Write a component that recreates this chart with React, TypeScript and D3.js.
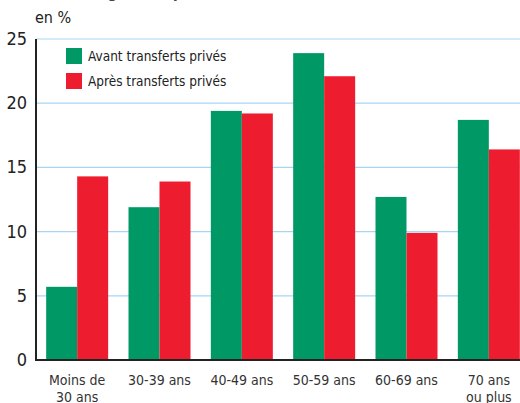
import React from "react";
import * as d3 from "d3";

const categories = ["Moins de\n30 ans", "30-39 ans", "40-49 ans", "50-59 ans", "60-69 ans", "70 ans\nou plus"];
const avant = [5.7, 11.9, 19.4, 23.9, 12.7, 18.7];
const apres = [14.3, 13.9, 19.2, 22.1, 9.9, 16.4];
const seriesNames = ["Avant transferts privés", "Après transferts privés"];
const yTicks = [0, 5, 10, 15, 20, 25];

const GREEN = "#009966";
const RED = "#ed1c2e";
const FONT = "'DejaVu Sans Condensed', 'DejaVu Sans', sans-serif";

export default function App() {
  const W = 520, H = 403;
  const x0 = 36, x1 = 530;
  const y = d3.scaleLinear().domain([0, 25]).range([360, 39]);
  const xb = d3.scaleBand<string>().domain(categories).range([x0, x1]).paddingInner(0.247).paddingOuter(0.1235);
  const xs = d3.scaleBand<string>().domain(["a", "b"]).range([0, xb.bandwidth()]);
  const series = [avant, apres];
  const colors = [GREEN, RED];
  return (
    <svg width={W} height={H} style={{ position: "absolute", left: 0, top: 0, background: "#fff" }} fontFamily={FONT}>
      <text x={5} y={-2} fontSize={15} fontWeight="bold" fill="#444">Taux selon l'âge de la personne de référence</text>
      {yTicks.filter(t => t > 0).map(t => (
        <line key={t} x1={x0} x2={W} y1={y(t)} y2={y(t)} stroke="#a9d5f2" strokeWidth={1.2} />
      ))}
      {categories.map((c, i) => (
        <g key={c}>
          {series.map((s, j) => (
            <rect key={j} x={(xb(c) as number) + (xs(j === 0 ? "a" : "b") as number)} y={y(s[i])}
              width={xs.bandwidth()} height={y(0) - y(s[i])} fill={colors[j]} />
          ))}
          {c.split("\n").map((line, k) => (
            <text key={k} x={(xb(c) as number) + xb.bandwidth() / 2} y={385 + k * 17} textAnchor="middle" fontSize={14} fill="#333">{line}</text>
          ))}
        </g>
      ))}
      {yTicks.map(t => (
        <text key={t} x={27} y={y(t) + 6} textAnchor="end" fontSize={18} fill="#222">{t}</text>
      ))}
      <line x1={x0} x2={x0} y1={y(25)} y2={y(0) + 1} stroke="#222" strokeWidth={2} />
      <line x1={x0 - 1} x2={W} y1={y(0)} y2={y(0)} stroke="#222" strokeWidth={2} />
      <text x={35} y={23} fontSize={16} fill="#222">en %</text>
      {seriesNames.map((n, j) => (
        <g key={n}>
          <rect x={66} y={48 + j * 25} width={16} height={16} fill={colors[j]} />
          <text x={88} y={61 + j * 25} fontSize={13.5} fill="#222">{n}</text>
        </g>
      ))}
    </svg>
  );
}
